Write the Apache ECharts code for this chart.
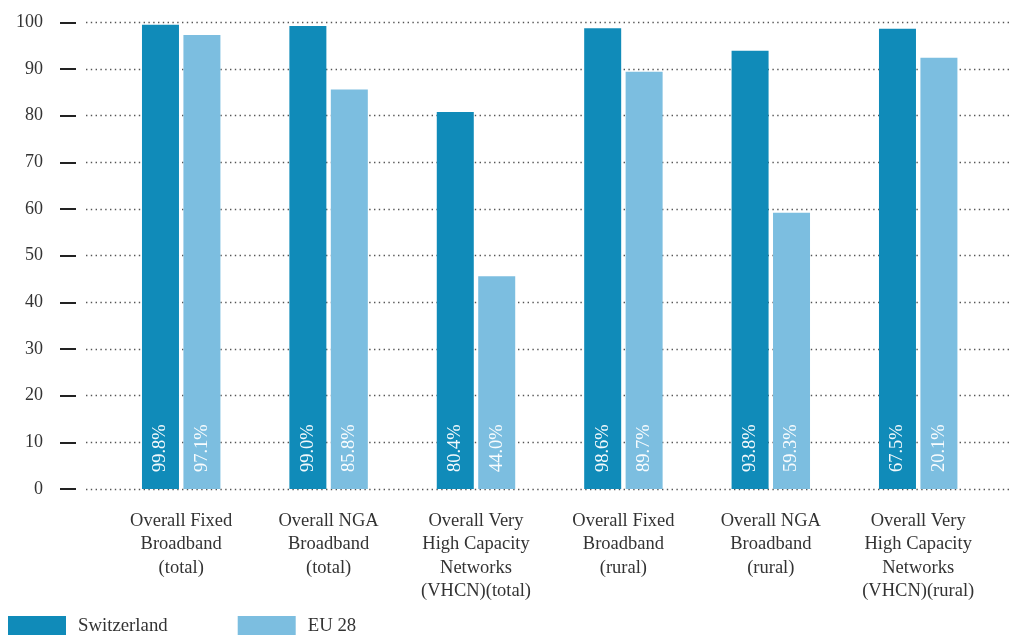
<!DOCTYPE html>
<html>
<head>
<meta charset="utf-8">
<script src="https://cdn.jsdelivr.net/npm/echarts@6/dist/echarts.min.js"></script>
<style>html,body{margin:0;padding:0;background:#fff;}#c{width:1014px;height:635px;}</style>
</head>
<body>
<div id="c"></div>
<script>
var categories = [
  'Overall Fixed\nBroadband\n(total)',
  'Overall NGA\nBroadband\n(total)',
  'Overall Very\nHigh Capacity\nNetworks\n(VHCN)(total)',
  'Overall Fixed\nBroadband\n(rural)',
  'Overall NGA\nBroadband\n(rural)',
  'Overall Very\nHigh Capacity\nNetworks\n(VHCN)(rural)'
];
var seriesNames = ['Switzerland', 'EU 28'];
var switzerlandValues = [99.5, 99.2, 80.8, 98.7, 93.9, 98.6];
var eu28Values = [97.3, 85.6, 45.6, 89.4, 59.2, 92.4];
var switzerlandLabels = ['99.8%', '99.0%', '80.4%', '98.6%', '93.8%', '67.5%'];
var eu28Labels = ['97.1%', '85.8%', '44.0%', '89.7%', '59.3%', '20.1%'];
var yTicks = [0, 10, 20, 30, 40, 50, 60, 70, 80, 90, 100];

var FONT = '"Liberation Serif", "DejaVu Serif", serif';
var chart = echarts.init(document.getElementById('c'), null, {renderer: 'canvas'});

function barLabel(arr) {
  return {
    show: true,
    position: 'insideBottom',
    distance: 17,
    rotate: 90,
    align: 'left',
    verticalAlign: 'middle',
    color: 'rgba(255,255,255,0.95)',
    fontFamily: FONT,
    fontSize: 18.5,
    formatter: function (p) { return arr[p.dataIndex]; }
  };
}

chart.setOption({
  animation: false,
  backgroundColor: '#fff',
  grid: [
    {left: 107.5, width: 884.4, top: 22.3, bottom: 146, containLabel: false},
    {left: 86, right: 2, top: 22.3, bottom: 146, containLabel: false},
    {left: 76, width: 1, top: 22.3, bottom: 146, containLabel: false}
  ],
  legend: {
    left: 8,
    top: 616,
    padding: 0,
    itemWidth: 58,
    itemHeight: 20,
    itemGap: 70,
    icon: 'rect',
    textStyle: {fontFamily: FONT, fontSize: 18.8, color: '#333', padding: [0, 0, 0, 7]},
    data: seriesNames
  },
  xAxis: [
    {
      type: 'category', gridIndex: 0, data: categories,
      axisLine: {show: false}, axisTick: {show: false},
      axisLabel: {margin: 20, fontFamily: FONT, fontSize: 18.5, color: '#333', lineHeight: 23.5, interval: 0}
    },
    {type: 'value', gridIndex: 1, show: false, min: 0, max: 1},
    {type: 'value', gridIndex: 2, show: false, min: 0, max: 1}
  ],
  yAxis: [
    {type: 'value', gridIndex: 0, min: 0, max: 100, interval: 10, show: false},
    {
      type: 'value', gridIndex: 1, min: 0, max: 100, interval: 10,
      axisLine: {show: false}, axisTick: {show: false}, axisLabel: {show: false},
      splitLine: {show: true, lineStyle: {color: '#555', width: 1.4, type: [1.4, 3.4]}}
    },
    {
      type: 'value', gridIndex: 2, min: 0, max: 100, interval: 10,
      axisLine: {show: false},
      axisTick: {show: true, length: 16, lineStyle: {color: '#222', width: 2}},
      axisLabel: {margin: 33, fontFamily: FONT, fontSize: 18, color: '#333',
        formatter: function (v) { return yTicks.indexOf(v) >= 0 ? String(v) : ''; }},
      splitLine: {show: false}
    }
  ],
  series: [
    {
      name: seriesNames[0], type: 'bar', xAxisIndex: 0, yAxisIndex: 0,
      data: switzerlandValues, barWidth: 37, barGap: '12%',
      itemStyle: {color: '#108bb9'},
      label: barLabel(switzerlandLabels),
      z: 3
    },
    {
      name: seriesNames[1], type: 'bar', xAxisIndex: 0, yAxisIndex: 0,
      data: eu28Values, barWidth: 37, barGap: '12%',
      itemStyle: {color: '#7cbee0'},
      label: barLabel(eu28Labels),
      z: 3
    }
  ]
});
</script>
</body>
</html>
